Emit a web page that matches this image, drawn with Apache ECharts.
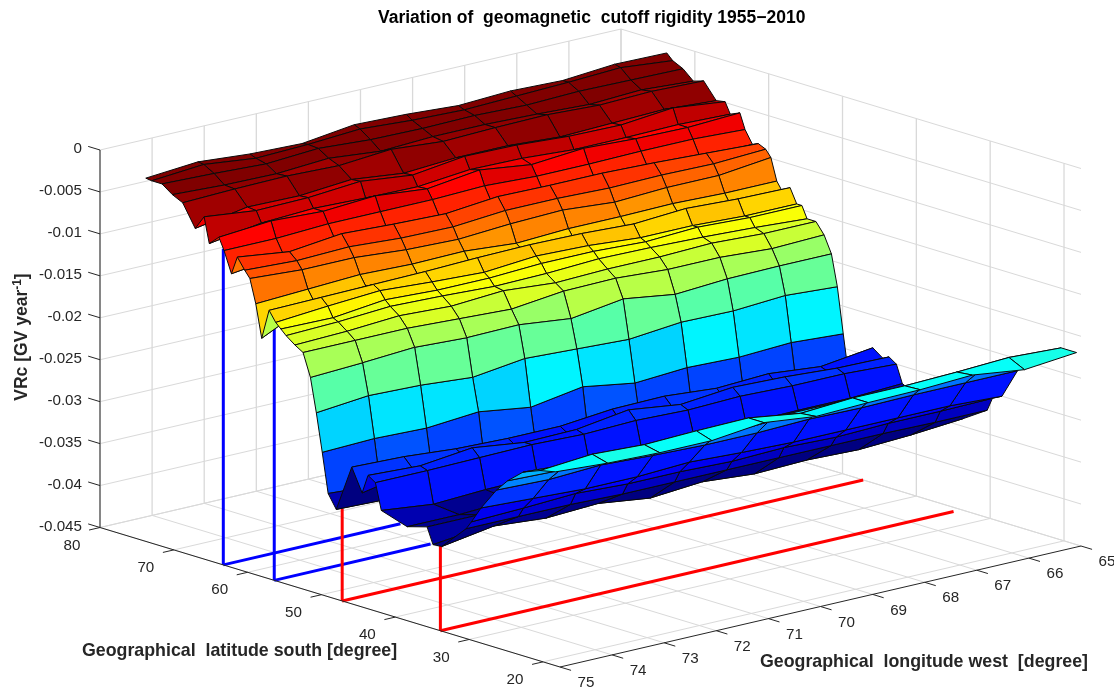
<!DOCTYPE html>
<html><head><meta charset="utf-8">
<style>html,body{margin:0;padding:0;background:#fff}#c{width:1114px;height:690px}</style>
<script src="https://cdn.jsdelivr.net/npm/echarts@6/dist/echarts.min.js"></script>
</head><body><div id="c"></div>
<script>
// ---------- values ----------
const longitudes = [75,74,73,72,71,70,69,68,67,66,65];
const latitudes = [73.8,73.0,71.6,70.2,68.8,67.1,65.9,65.2,63.9,63.2,62.2,61.4,60.4,59.7,58.9,58.1,57.1,56.2,55.5,54.8,53.6,52.5,51.5,50.7,49.9,49.1,48.0,45.9,44.5,43.7,42.7,41.9,38.4,35.7,34.9,33.7,30.4,29.7,28.4,26.3,24.8,22.7,20.4,18.3];
// VRc in units of 1e-4 GV/year: one row per latitude, one column per longitude
const vrcE4 = [
[-17,-12,-17,-19,-11,-13,-17,-14,-16,-11,-12],
[-18,-13,-20,-18,-14,-18,-20,-18,-16,-13,-19],
[-18,-20,-23,-19,-23,-24,-23,-25,-23,-24,-25],
[-27,-30,-31,-27,-33,-30,-30,-32,-35,-32,-36],
[-33,-31,-30,-32,-27,-32,-30,-29,-32,-30,-32],
[-59,-48,-49,-44,-51,-47,-47,-51,-49,-47,-51],
[-42,-49,-48,-43,-50,-42,-43,-47,-48,-42,-49],
[-72,-62,-59,-61,-62,-56,-57,-61,-61,-60,-62],
[-61,-56,-59,-55,-61,-53,-61,-56,-59,-60,-57],
[-75,-75,-72,-72,-72,-70,-73,-73,-72,-72,-75],
[-100,-92,-90,-92,-91,-88,-91,-92,-90,-92,-90],
[-78,-86,-79,-82,-84,-78,-79,-79,-81,-84,-87],
[-91,-94,-92,-96,-97,-92,-92,-94,-93,-94,-91],
[-99,-103,-103,-108,-110,-106,-104,-109,-106,-106,-99],
[-127,-124,-121,-123,-122,-127,-124,-124,-123,-125,-125],
[-166,-136,-133,-134,-135,-133,-135,-135,-133,-137,-136],
[-130,-129,-128,-127,-125,-124,-125,-128,-124,-127,-128],
[-142,-137,-133,-137,-140,-135,-137,-142,-142,-145,-145],
[-148,-149,-142,-145,-145,-142,-142,-145,-142,-145,-145],
[-154,-152,-148,-150,-153,-152,-149,-150,-152,-155,-159],
[-162,-160,-156,-159,-155,-160,-158,-158,-156,-159,-159],
[-168,-168,-168,-171,-174,-167,-166,-170,-170,-174,-172],
[-195,-192,-188,-191,-190,-197,-188,-197,-193,-192,-192],
[-235,-229,-231,-236,-228,-231,-234,-228,-229,-225,-229],
[-280,-278,-280,-275,-284,-274,-284,-280,-282,-279,-283],
[-327,-331,-331,-331,-333,-333,-333,-334,-334,-335,-335],
[-343,-345,-345,-343,-345,-345,-343,-345,-345,-347,-349],
[-287,-289,-294,-296,-296,-290,-289,-294,-291,-297,-289],
[-314,-302,-302,-304,-304,-304,-302,-304,-304,-302,-298],
[-291,-294,-287,-295,-294,-285,-293,-287,-289,-293,-294],
[-297,-297,-296,-295,-297,-295,-297,-295,-297,-297,-300],
[-328,-335,-332,-331,-331,-328,-326,-325,-324,-324,-321],
[-338,-338,-335,-333,-333,-333,-331,-331,-333,-335,-337],
[-331,-331,-328,-328,-328,-328,-328,-331,-331,-333,-333],
[-350,-343,-340,-340,-340,-340,-340,-340,-340,-343,-345],
[-349,-339,-344,-341,-349,-344,-349,-347,-349,-346,-341],
[-319,-319,-319,-321,-321,-321,-321,-321,-321,-322,-322],
[-309,-307,-304,-307,-307,-309,-307,-309,-307,-307,-306],
[-289,-292,-295,-295,-292,-295,-297,-297,-297,-297,-300],
[-262,-264,-261,-264,-266,-266,-264,-265,-264,-264,-264],
[-247,-249,-249,-249,-252,-249,-249,-249,-249,-249,-249],
[-231,-235,-235,-235,-237,-235,-235,-235,-235,-235,-235],
[-223,-218,-221,-219,-218,-227,-223,-223,-221,-218,-221],
[-219,-223,-225,-225,-218,-225,-223,-222,-219,-227,-221]
];
const colorLimits = [-345,-20];
const zTicks = [0,-0.005,-0.01,-0.015,-0.02,-0.025,-0.03,-0.035,-0.04,-0.045];
const zTickLabels = ['0','-0.005','-0.01','-0.015','-0.02','-0.025','-0.03','-0.035','-0.04','-0.045'];
const latTicks = [80,70,60,50,40,30,20];
const lonTicks = [75,74,73,72,71,70,69,68,67,66,65];
const blueLats = [63.3,56.4];
const blueTops = [-0.0073,-0.0134];
const blueEnds = [71.6,72];
const redLats = [47.2,33.9];
const redTops = [-0.034,-0.034];
const redEnds = [65,65.15];
const chartTitle = 'Variation of  geomagnetic  cutoff rigidity 1955\u22122010';
const latName = 'Geographical  latitude south [degree]';
const lonName = 'Geographical  longitude west  [degree]';

// ---------- 3D axes: orthographic view of the box ----------
const LAT_MAX=80, LAT_MIN=17.7, LON_FRONT=75, LON_BACK=65, Z_MIN=-0.045, Z_MAX=0;
const O={x:100,y:527.5}, LATV={x:460,y:139.5}, LONV={x:521,y:-121}, ZPX=377.5;
function proj(lat,lon,z){
  const a=(LAT_MAX-lat)/(LAT_MAX-LAT_MIN), b=(LON_FRONT-lon)/(LON_FRONT-LON_BACK), c=(z-Z_MIN)/(Z_MAX-Z_MIN);
  return [O.x+a*LATV.x+b*LONV.x, O.y+a*LATV.y+b*LONV.y-c*ZPX];
}
function depth(lat,lon,z){
  return 8.16*(LAT_MAX-lat)-44.2*(LON_FRONT-lon)+0.276*(z-Z_MIN)*ZPX/(Z_MAX-Z_MIN);
}
// jet, 64 levels
function jet(t){
  t=Math.floor(Math.max(0,Math.min(0.9999,t))*64)/63;
  const f=v=>Math.round(255*Math.max(0,Math.min(1,1.5-Math.abs(4*t-v))));
  return 'rgb('+f(3)+','+f(2)+','+f(1)+')';
}
const cMin=colorLimits[0], cMax=colorLimits[1];

// ---------- faces, far to near ----------
const faces=[];
for(let i=0;i<latitudes.length-1;i++)for(let j=0;j<longitudes.length-1;j++){
  const la=(latitudes[i]+latitudes[i+1])/2, lo=(longitudes[j]+longitudes[j+1])/2;
  const z=(vrcE4[i][j]+vrcE4[i][j+1]+vrcE4[i+1][j]+vrcE4[i+1][j+1])/4e4;
  faces.push({i,j,d:depth(la,lo,z)});
}
faces.sort((p,q)=>p.d-q.d);

// ---------- grid and axis segments ----------
const GRID='#d9d9d9', AXIS='#262626';
const segs=[];
function seg(p,q,c,w){segs.push({p,q,c,w});}
const zb=Z_MIN, zt=Z_MAX;
lonTicks.forEach(l=>{
  seg([LAT_MAX,l,zb],[LAT_MIN,l,zb],GRID,1);
  seg([LAT_MAX,l,zb],[LAT_MAX,l,zt],GRID,1.3);
});
latTicks.forEach(l=>{
  seg([l,LON_FRONT,zb],[l,LON_BACK,zb],GRID,1);
  seg([l,LON_BACK,zb],[l,LON_BACK,zt],GRID,1.3);
});
zTicks.forEach(z=>{
  seg([LAT_MAX,LON_FRONT,z],[LAT_MAX,LON_BACK,z],GRID,1);
  seg([LAT_MAX,LON_BACK,z],[LAT_MIN,LON_BACK,z],GRID,1);
});
blueLats.forEach((l,k)=>{
  seg([l,LON_FRONT,zb],[l,blueEnds[k],zb],'#0000ff',3);
  seg([l,LON_FRONT,zb],[l,LON_FRONT,blueTops[k]],'#0000ff',3);
});
redLats.forEach((l,k)=>{
  seg([l,LON_FRONT,zb],[l,redEnds[k],zb],'#ff0000',3);
  seg([l,LON_FRONT,zb],[l,LON_FRONT,redTops[k]],'#ff0000',3);
});
const axisSegs=[];
function aseg(p,q){axisSegs.push({p,q,c:AXIS,w:1});}
aseg([LAT_MAX,LON_FRONT,zb],[LAT_MAX,LON_FRONT,zt]);
aseg([LAT_MAX,LON_FRONT,zb],[LAT_MIN,LON_FRONT,zb]);
aseg([LAT_MIN,LON_FRONT,zb],[LAT_MIN,LON_BACK,zb]);
zTicks.forEach(z=>aseg([LAT_MAX,LON_FRONT,z],[LAT_MAX+1.6,LON_FRONT,z]));
latTicks.forEach(l=>aseg([l,LON_FRONT,zb],[l,LON_FRONT+0.21,zb]));
lonTicks.forEach(l=>aseg([LAT_MIN,l,zb],[LAT_MIN-1.5,l,zb]));

// ---------- tick labels and names ----------
const FONT='"Liberation Sans",Arial,sans-serif';
const labels=[];
zTicks.forEach((z,k)=>{const p=proj(LAT_MAX,LON_FRONT,z);labels.push({x:82,y:p[1]-1,dx:0,dy:0,t:zTickLabels[k],a:'right'});});
latTicks.forEach(l=>{const p=proj(l,LON_FRONT,zb);labels.push({x:p[0],y:p[1],dx:-28,dy:18,t:String(l),a:'center'});});
lonTicks.forEach(l=>{const p=proj(LAT_MIN,l,zb);labels.push({x:p[0],y:p[1],dx:26,dy:16,t:String(l),a:'center'});});

function lineEl(api,s){
  const a=api.coord(proj(...s.p)), b=api.coord(proj(...s.q));
  return {type:'line',shape:{x1:a[0],y1:a[1],x2:b[0],y2:b[1]},style:{stroke:s.c,lineWidth:s.w,fill:null},silent:true};
}
function segSeries(list,z){
  return {type:'custom',coordinateSystem:'cartesian2d',silent:true,animation:false,clip:false,z:z,
    data:list.map((s,i)=>[i]),
    renderItem:(params,api)=>lineEl(api,list[params.dataIndex])};
}

const option={
  animation:false,
  backgroundColor:'#fff',
  title:{text:chartTitle,left:373,top:4,textStyle:{fontFamily:FONT,fontSize:17.5,fontWeight:'bold',color:'#000'}},
  grid:{left:0,right:0,top:0,bottom:0},
  xAxis:{type:'value',min:0,max:1114,show:false},
  yAxis:{type:'value',min:0,max:690,inverse:true,show:false},
  series:[
    segSeries(segs,1),
    {type:'custom',coordinateSystem:'cartesian2d',silent:true,animation:false,clip:false,z:2,
      data:faces.map((f,k)=>[k]),
      renderItem:(params,api)=>{
        const f=faces[params.dataIndex],i=f.i,j=f.j;
        const corner=(r,c)=>api.coord(proj(latitudes[r],longitudes[c],vrcE4[r][c]/1e4));
        const pts=[corner(i,j),corner(i,j+1),corner(i+1,j+1),corner(i+1,j)];
        return {type:'polygon',shape:{points:pts},
          style:{fill:jet((vrcE4[i][j]-cMin)/(cMax-cMin)),stroke:'#0a0a0a',lineWidth:1,lineJoin:'round'},silent:true};
      }},
    segSeries(axisSegs,3),
    {type:'custom',coordinateSystem:'cartesian2d',silent:true,animation:false,clip:false,z:4,
      data:labels.map((l,i)=>[i]),
      renderItem:(params,api)=>{
        const l=labels[params.dataIndex],p=api.coord([l.x+l.dx,l.y+l.dy]);
        return {type:'text',x:p[0],y:p[1],style:{text:l.t,textAlign:l.a,textVerticalAlign:'middle',fontFamily:FONT,fontSize:15.2,fill:'#262626'},silent:true};
      }},
    {type:'custom',coordinateSystem:'cartesian2d',silent:true,animation:false,clip:false,z:4,
      data:[[0],[1],[2]],
      renderItem:(params,api)=>{
        if(params.dataIndex===0){const p=api.coord([82,651]);
          return {type:'text',x:p[0],y:p[1],style:{text:latName,textAlign:'left',textVerticalAlign:'middle',fontFamily:FONT,fontSize:17.8,fontWeight:'bold',fill:'#262626'},silent:true};}
        if(params.dataIndex===1){const p=api.coord([760,662]);
          return {type:'text',x:p[0],y:p[1],style:{text:lonName,textAlign:'left',textVerticalAlign:'middle',fontFamily:FONT,fontSize:17.8,fontWeight:'bold',fill:'#262626'},silent:true};}
        const p=api.coord([22,337]);
        return {type:'text',x:p[0],y:p[1],rotation:Math.PI/2,
          style:{text:'{a|VRc [GV year}{s|-1}{a|]}',align:'center',verticalAlign:'middle',
            rich:{a:{fontFamily:FONT,fontSize:17.5,fontWeight:'bold',fill:'#262626',lineHeight:20},
                  s:{fontFamily:FONT,fontSize:12,fontWeight:'bold',fill:'#262626',verticalAlign:'top',lineHeight:20}}},silent:true};
      }}
  ]
};
const chart=echarts.init(document.getElementById('c'),null,{renderer:'canvas',width:1114,height:690});
chart.setOption(option);
</script></body></html>
